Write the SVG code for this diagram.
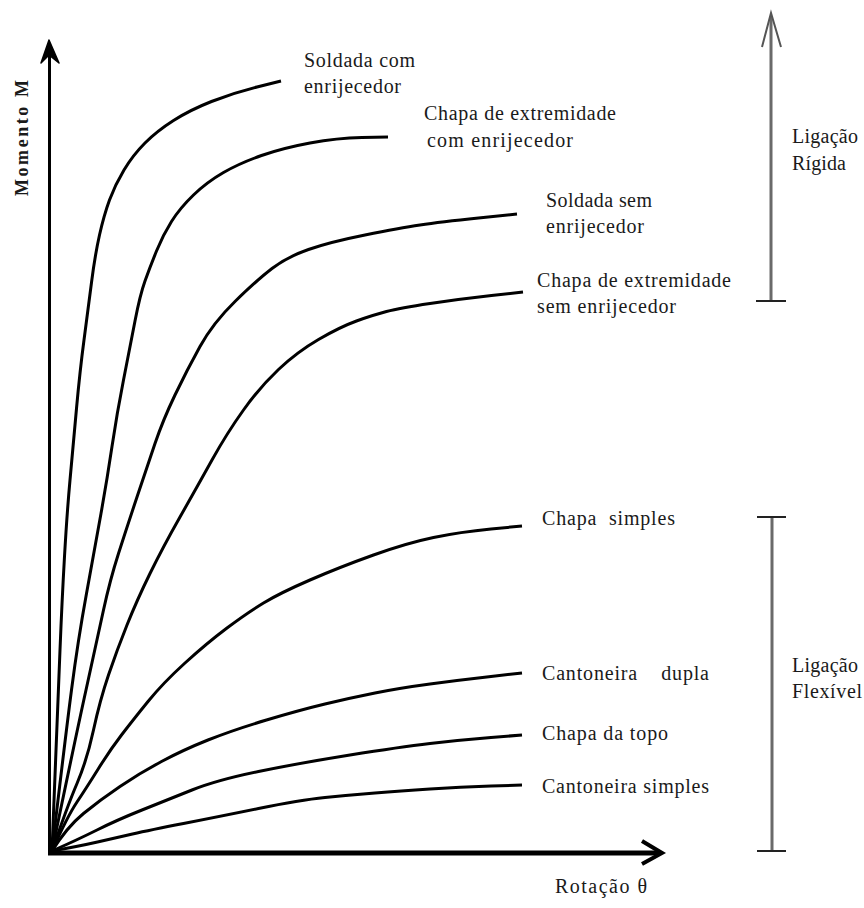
<svg xmlns="http://www.w3.org/2000/svg" width="864" height="908" viewBox="0 0 864 908">
<style>
.t{font-family:"Liberation Serif","Times New Roman",serif;font-size:20px;fill:#1a1a1a}
.c{fill:none;stroke:#000;stroke-width:3;stroke-linejoin:round;stroke-linecap:butt}
.ax{fill:none;stroke:#000;stroke-linecap:butt}
.br{stroke:#6a6a6a;stroke-width:3;fill:none}
.tk{stroke:#222;stroke-width:2;fill:none}
</style>
<rect width="864" height="908" fill="#fff"/>
<g id="axes">
<line class="ax" x1="49.5" y1="44" x2="49.5" y2="855" stroke-width="3"/>
<path d="M49,40 L41,63 L49,55 L59,63 Z" fill="#000" stroke="#000" stroke-width="1.5" stroke-linejoin="round"/>
<line class="ax" x1="48" y1="853" x2="660" y2="853" stroke-width="5"/>
<path class="ax" d="M642,841 L662,853 L642,864" stroke-width="4"/>
<text class="t" transform="translate(28,138) rotate(-90)" text-anchor="middle" textLength="116" font-weight="bold" style="font-size:18px">Momento M</text>
<text class="t" x="555" y="893" textLength="92">Rotação θ</text>
</g>
<g id="curves">
<path id="c1" class="c" d="M52,851 Q58,700 60,650 Q62,600 64.5,556.5 Q67,513 70,480 Q73,447 76.5,408.5 Q80,370 84,340 Q88,310 91.5,282.5 Q95,255 99.5,235 Q104,215 109.5,200 Q115,185 124,170 Q133,155 145,143 Q157,131 173.5,120.5 Q190,110 211.5,101.5 Q233,93 257,87 L281,81"/>
<path id="c2" class="c" d="M52,851 Q65,740 71.5,690 Q78,640 86.5,593.5 Q95,547 101,513.5 Q107,480 112,446.5 Q117,413 123.5,380 Q130,347 135,321 Q140,295 145,281 Q150,267 156.5,251 Q163,235 171.5,221.5 Q180,208 193.5,195 Q207,182 223.5,172.5 Q240,163 261.5,155.5 Q283,148 310,143 Q337,138 362,137.5 L388,137"/>
<path id="c3" class="c" d="M52,851 Q75,740 86,690 Q97,640 103.5,610 Q110,580 118.5,553.5 Q127,527 137,497 Q147,467 155,443.5 Q163,420 175,395 Q187,370 200,346.5 Q213,323 235,301.5 Q257,280 272,268.5 Q287,257 308.5,249.5 Q330,242 365,235 Q400,228 420,225 Q440,222 478.5,218 L517,214"/>
<path id="c4" class="c" d="M52,851 Q67,807 77,783.5 Q87,760 93.5,730 Q100,700 108.5,675 Q117,650 127,625 Q137,600 150,573.5 Q163,547 180,517 Q197,487 212,460 Q227,433 243.5,410 Q260,387 278.5,369.5 Q297,352 318.5,339.5 Q340,327 356.5,321 Q373,315 386.5,311.5 Q400,308 430,303.5 Q460,299 491.5,295.5 L523,292"/>
<path id="c5" class="c" d="M52,851 Q67,817 77,802 Q87,787 98.5,768.5 Q110,750 121.5,735 Q133,720 148,701.5 Q163,683 185,663 Q207,643 227,628 Q247,613 263.5,603 Q280,593 310,580 Q340,567 373.5,555 Q407,543 433.5,537.5 Q460,532 491,529 L522,526"/>
<path id="c6" class="c" d="M52,851 Q67,827 83.5,813.5 Q100,800 120,786.5 Q140,773 161.5,761.5 Q183,750 208,740 Q233,730 266.5,720 Q300,710 325,704 Q350,698 375,693 Q400,688 430,684 Q460,680 491,676.5 L522,673"/>
<path id="c7" class="c" d="M52,851 Q77,840 97,830 Q117,820 142,810 Q167,800 192,790 Q217,780 258.5,771.5 Q300,763 350,755 Q400,747 430,743.5 Q460,740 491,737.5 L522,735"/>
<path id="c8" class="c" d="M52,851 Q80,846 97.5,842 Q115,838 132.5,834 Q150,830 183.5,823.5 Q217,817 258.5,808.5 Q300,800 325,797.5 Q350,795 375,793 Q400,791 430,789 Q460,787 491,786 L522,785"/>
</g>
<g id="labels">
<text class="t" x="304" y="67" textLength="111">Soldada com</text>
<text class="t" x="304" y="93" textLength="97">enrijecedor</text>
<text class="t" x="424" y="120" textLength="192">Chapa de extremidade</text>
<text class="t" x="427" y="147" textLength="146">com enrijecedor</text>
<text class="t" x="546" y="207" textLength="106">Soldada sem</text>
<text class="t" x="546" y="233" textLength="98">enrijecedor</text>
<text class="t" x="537" y="287" textLength="194">Chapa de extremidade</text>
<text class="t" x="537" y="313" textLength="139">sem enrijecedor</text>
<text class="t" x="542" y="525" textLength="133" xml:space="preserve">Chapa  simples</text>
<text class="t" x="542" y="680" textLength="167" xml:space="preserve">Cantoneira    dupla</text>
<text class="t" x="542" y="740" textLength="126">Chapa da topo</text>
<text class="t" x="542" y="793" textLength="167">Cantoneira simples</text>
</g>
<g id="rigid">
<line class="br" x1="771" y1="16" x2="771" y2="301"/>
<path d="M762,47 L771,13 L781,47" fill="none" stroke="#555" stroke-width="2"/>
<line class="tk" x1="756" y1="301" x2="786" y2="301"/>
<text class="t" x="792" y="143" textLength="66">Ligação</text>
<text class="t" x="792" y="170" textLength="54">Rígida</text>
</g>
<g id="flexible">
<line class="br" x1="772" y1="517" x2="772" y2="851"/>
<line class="tk" x1="757" y1="517" x2="786" y2="517"/>
<line class="tk" x1="757" y1="851" x2="786" y2="851"/>
<text class="t" x="792" y="672" textLength="66">Ligação</text>
<text class="t" x="792" y="698" textLength="70">Flexível</text>
</g>
</svg>
